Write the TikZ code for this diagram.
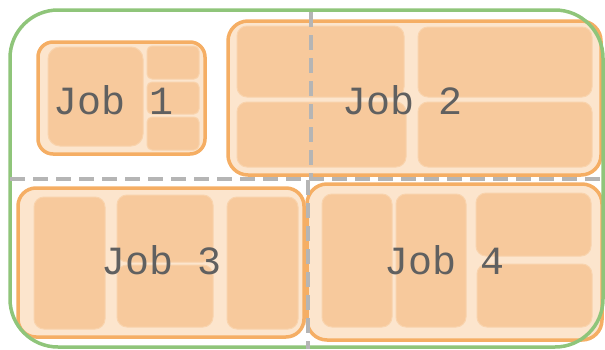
\documentclass[tikz,border=0pt]{standalone}
\usepackage{fontspec}
\setmonofont{Liberation Mono}
\begin{document}
\definecolor{frame}{HTML}{8FC57A}
\definecolor{jobedge}{HTML}{F5AE64}
\definecolor{jobfill}{HTML}{FCE5CD}
\definecolor{slotfill}{HTML}{F7C99C}
\definecolor{slotrim}{HTML}{F9D3AC}
\definecolor{divider}{HTML}{B5B5B5}
\definecolor{label}{HTML}{606060}
\begin{tikzpicture}[x=1pt,y=-1pt,
  cluster/.style={draw=frame,line width=3.5pt,rounded corners=48pt},
  jobbox/.style={draw=jobedge,fill=jobfill,line width=3.5pt},
  slot/.style={fill=slotfill,draw=slotrim,line width=1pt},
  split/.style={draw=divider,line width=3.5pt,dash pattern=on 15pt off 8pt},
  joblabel/.style={text=label,font=\ttfamily\fontsize{40}{40}\selectfont,inner sep=0pt}]
\useasboundingbox (0,0) rectangle (605,349);

% job 1
\path[jobbox,rounded corners=15pt] (38,42) rectangle (205,154);
\path[slot,rounded corners=12pt] (48,47) rectangle (143,146);
\path[slot,rounded corners=5pt] (147,46) rectangle (199,79);
\path[slot,rounded corners=5pt] (147,82) rectangle (199,114);
\path[slot,rounded corners=5pt] (147,117) rectangle (199,150);

% job 2
\path[jobbox,rounded corners=20pt] (228,21) rectangle (601,175);
\path[slot,rounded corners=10pt] (237,26) rectangle (404,97);
\path[slot,rounded corners=10pt] (237,102) rectangle (406,167);
\path[slot,rounded corners=10pt] (418,27) rectangle (592,97);
\path[slot,rounded corners=10pt] (418,102) rectangle (592,167);

% job 3
\path[jobbox,rounded corners=18pt] (18,188) rectangle (304,337);
\path[slot,rounded corners=10pt] (34,197) rectangle (105,329);
\path[slot,rounded corners=10pt] (117,195) rectangle (213,262);
\path[slot,rounded corners=10pt] (117,265) rectangle (213,327);
\path[slot,rounded corners=10pt] (227,197) rectangle (298,329);

% job 4
\path[jobbox,rounded corners=20pt] (307,184) rectangle (602,340);
\path[slot,rounded corners=10pt] (322,194) rectangle (392,327);
\path[slot,rounded corners=10pt] (396,194) rectangle (466,327);
\path[slot,rounded corners=10pt] (476,193) rectangle (591,256);
\path[slot,rounded corners=10pt] (477,264) rectangle (592,327);

% outer cluster frame
\path[cluster] (10,10) rectangle (603,347);

% partition lines
\coordinate (hL) at (10,179);
\coordinate (hR) at (605,179);
\coordinate (vT) at (311,12);
\coordinate (vM) at (311,178);
\coordinate (vM2) at (308,180);
\coordinate (vB) at (308,349);
\draw[split] (hL) -- (hR);
\draw[split] (vT) -- (vM);
\draw[split] (vM2) -- (vB);

% labels
\node[joblabel] (l1) at (114,100) {Job 1};
\node[joblabel] (l2) at (403,100) {Job 2};
\node[joblabel] (l3) at (162,260) {Job 3};
\node[joblabel] (l4) at (445,260) {Job 4};
\end{tikzpicture}
\end{document}
